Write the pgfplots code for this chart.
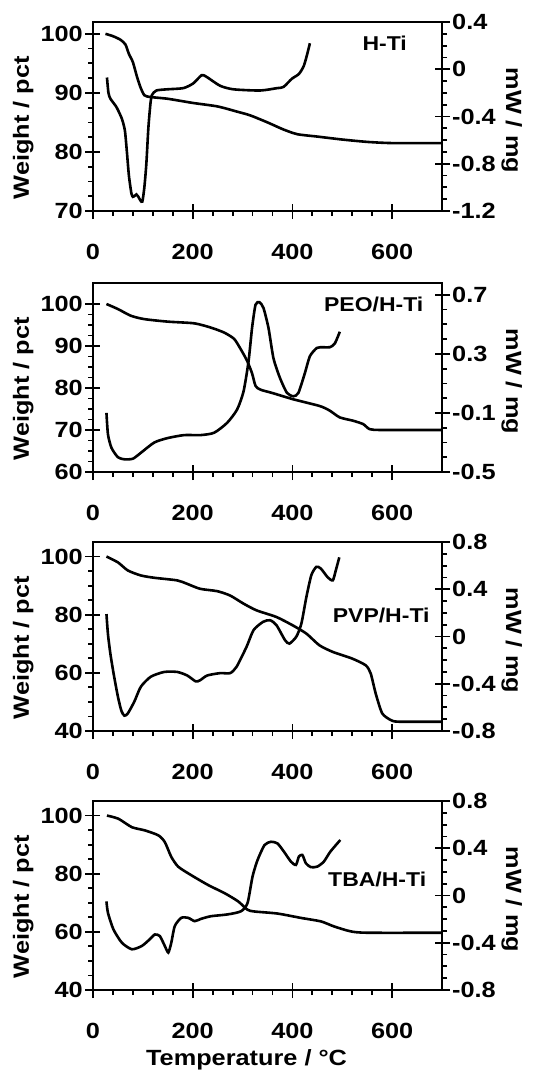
\documentclass[border=0pt]{standalone}
\usepackage{pgfplots}
\pgfplotsset{compat=1.18}
\usepackage{fontspec}
\setmainfont{Liberation Sans}[FakeStretch=1.15]
\newcommand{\ff}{\fontsize{22}{25}\selectfont\bfseries}
\newcommand{\pf}{\fontsize{20}{24}\selectfont\bfseries}
\pgfplotsset{
 panel/.style={scale only axis, width=349pt, height=189pt, xmin=0, xmax=700,
   axis line style={line width=2.4pt, black},
   every tick/.style={line width=1.8pt, black},
   major tick length=8pt, minor tick length=5pt, tick align=outside,
   tick label style={font=\ff, inner sep=2pt},
   label style={font=\ff},
   /pgf/number format/assume math mode=true,
 },
 wt/.style={panel, xtick={0,200,400,600}, minor x tick num=4, xtick pos=left, ytick pos=left,
   minor y tick num=3, xticklabel style={yshift=-23pt},
   extra x ticks={0,200,400,600}, extra x tick labels={},
   extra x tick style={tick align=inside, major tick length=7pt},
   ylabel={Weight / pct}, ylabel style={at={(axis description cs:-0.2,0.44)}, anchor=center}},
 dsc/.style={panel, axis x line=none, axis y line*=right, minor y tick num=3,
   ylabel={mW / mg}, ylabel style={at={(axis description cs:1.2,0.48)}, anchor=center, rotate=180}},
 cv/.style={black, line width=2.6pt, smooth, tension=0.4},
}
\begin{document}
\begin{tikzpicture}
\useasboundingbox (0,0) rectangle (556pt,-1070pt);
% ---------- Panel 1 ----------
\begin{axis}[wt, at={(93pt,-211pt)}, ymin=70, ymax=102, ytick={70,80,90,100},
  extra y ticks={70,80,90,100}, extra y tick labels={}, extra y tick style={tick align=inside, major tick length=7pt}]
\addplot[cv] coordinates {(25,100) (40,99.6) (55,99.0) (65,98.2) (72,96.6) (80,95.2) (88,92.8) (95,91.0) (103,89.6) (115,89.3) (150,89.0) (200,88.3) (250,87.7) (290,86.8) (315,86.2) (350,85.0) (382,83.8) (410,83.0) (450,82.6) (500,82.1) (550,81.7) (600,81.5) (700,81.5)};
\node[font=\pf] at (axis cs:585,98.4) {H-Ti};
\end{axis}
\begin{axis}[dsc, at={(93pt,-211pt)}, ymin=-1.2, ymax=0.4, ytick={-1.2,-0.8,-0.4,0,0.4},
  extra y ticks={-0.8,-0.4,0}, extra y tick labels={}, extra y tick style={tick align=inside, major tick length=7pt}]
\addplot[cv] coordinates {(28,-0.07) (31,-0.2) (35,-0.25) (47,-0.32) (58,-0.42) (64,-0.52) (68,-0.7) (72,-0.9) (77,-1.05) (80,-1.08) (84,-1.07) (87,-1.06) (91,-1.08) (95,-1.11) (99,-1.12) (103,-1.0) (107,-0.8) (111,-0.5) (115,-0.3) (118,-0.22) (127,-0.18) (148,-0.17) (181,-0.16) (201,-0.12) (218,-0.05) (228,-0.065) (255,-0.14) (282,-0.17) (335,-0.18) (369,-0.16) (382,-0.15) (399,-0.08) (413,-0.04) (423,0.03) (431,0.15) (435,0.22)};
\end{axis}
% ---------- Panel 2 ----------
\begin{axis}[wt, at={(93pt,-472pt)}, ymin=60, ymax=105, ytick={60,70,80,90,100},
  extra y ticks={70,80,90,100}, extra y tick labels={}, extra y tick style={tick align=inside, major tick length=7pt}]
\addplot[cv] coordinates {(27,100) (50,98.8) (76,97.2) (103,96.4) (150,95.8) (203,95.4) (236,94.4) (263,93.2) (283,91.7) (296,89.3) (309,86.5) (319,83.5) (326,80.5) (336,79.6) (360,78.8) (402,77.3) (455,75.7) (475,74.6) (495,73.0) (522,72.2) (542,71.4) (555,70.2) (580,70.0) (700,70.0)};
\node[font=\pf] at (axis cs:563,100) {PEO/H-Ti};
\end{axis}
\begin{axis}[dsc, at={(93pt,-472pt)}, ymin=-0.5, ymax=0.78, ytick={-0.5,-0.1,0.3,0.7},
  extra y ticks={-0.1,0.3,0.7}, extra y tick labels={}, extra y tick style={tick align=inside, major tick length=7pt}]
\addplot[cv] coordinates {(27,-0.1) (30,-0.245) (37,-0.336) (50,-0.40) (63,-0.414) (80,-0.41) (96,-0.37) (123,-0.30) (150,-0.27) (183,-0.25) (216,-0.25) (243,-0.234) (269,-0.167) (289,-0.077) (302,0.047) (312,0.25) (319,0.475) (326,0.633) (334,0.65) (342,0.61) (352,0.475) (362,0.27) (375,0.137) (389,0.036) (402,0.013) (412,0.036) (425,0.17) (435,0.284) (449,0.34) (462,0.345) (475,0.345) (485,0.37) (495,0.45)};
\end{axis}
% ---------- Panel 3 ----------
\begin{axis}[wt, at={(93pt,-731pt)}, ymin=40, ymax=105, ytick={40,60,80,100},
  extra y ticks={60,80,100}, extra y tick labels={}, extra y tick style={tick align=inside, major tick length=7pt}]
\addplot[cv] coordinates {(27,100) (50,98) (70,95.2) (96,93.5) (123,92.7) (169,91.8) (189,90.6) (215,88.9) (249,88.1) (275,86.6) (302,83.8) (328,81.5) (368,79.2) (401,76.3) (428,73.5) (454,69.5) (481,67.2) (520,64.9) (547,62.6) (557,59.8) (567,52.9) (580,46.1) (597,43.8) (613,43.2) (700,43.2)};
\node[font=\pf] at (axis cs:578,79.8) {PVP/H-Ti};
\end{axis}
\begin{axis}[dsc, at={(93pt,-731pt)}, ymin=-0.8, ymax=0.8, ytick={-0.8,-0.4,0,0.4,0.8},
  extra y ticks={-0.4,0,0.4}, extra y tick labels={}, extra y tick style={tick align=inside, major tick length=7pt}]
\addplot[cv] coordinates {(27,0.19) (30,0.02) (35,-0.15) (42,-0.33) (50,-0.51) (57,-0.63) (63,-0.67) (70,-0.65) (83,-0.55) (96,-0.425) (116,-0.34) (143,-0.30) (169,-0.30) (189,-0.33) (206,-0.38) (215,-0.37) (229,-0.33) (255,-0.31) (275,-0.31) (288,-0.256) (308,-0.087) (322,0.054) (341,0.124) (355,0.138) (368,0.096) (385,-0.03) (394,-0.06) (408,0.0) (418,0.11) (428,0.335) (438,0.52) (448,0.59) (457,0.575) (471,0.50) (481,0.476) (487,0.56) (494,0.67)};
\end{axis}
% ---------- Panel 4 ----------
\begin{axis}[wt, at={(93pt,-990pt)}, ymin=40, ymax=105, ytick={40,60,80,100},
  extra y ticks={60,80,100}, extra y tick labels={}, extra y tick style={tick align=inside, major tick length=7pt},
  xlabel={Temperature / °C}, xlabel style={at={(axis description cs:0.44,-0.37)}, anchor=center}]
\addplot[cv] coordinates {(28,100) (51,98.9) (78,96.0) (104,94.9) (131,93.2) (144,90.9) (157,85.8) (171,82.4) (197,79.5) (231,76.1) (264,73.3) (291,70.5) (310,67.6) (324,67.0) (370,66.3) (417,64.8) (457,63.6) (483,61.9) (516,60.2) (550,59.7) (700,59.7)};
\node[font=\pf] at (axis cs:570,78) {TBA/H-Ti};
\end{axis}
\begin{axis}[dsc, at={(93pt,-990pt)}, ymin=-0.8, ymax=0.8, ytick={-0.8,-0.4,0,0.4,0.8},
  extra y ticks={-0.4,0,0.4}, extra y tick labels={}, extra y tick style={tick align=inside, major tick length=7pt}]
\addplot[cv] coordinates {(27,-0.05) (30,-0.147) (41,-0.287) (58,-0.40) (78,-0.455) (98,-0.427) (114,-0.37) (124,-0.33) (134,-0.343) (144,-0.427) (151,-0.483) (157,-0.40) (164,-0.259) (177,-0.189) (191,-0.189) (204,-0.217) (217,-0.197) (237,-0.175) (270,-0.16) (297,-0.133) (310,-0.063) (320,0.161) (330,0.30) (344,0.427) (357,0.455) (370,0.441) (383,0.371) (397,0.287) (407,0.259) (413,0.33) (420,0.343) (427,0.273) (437,0.24) (450,0.245) (463,0.287) (476,0.371) (496,0.47)};
\end{axis}
\end{tikzpicture}
\end{document}
